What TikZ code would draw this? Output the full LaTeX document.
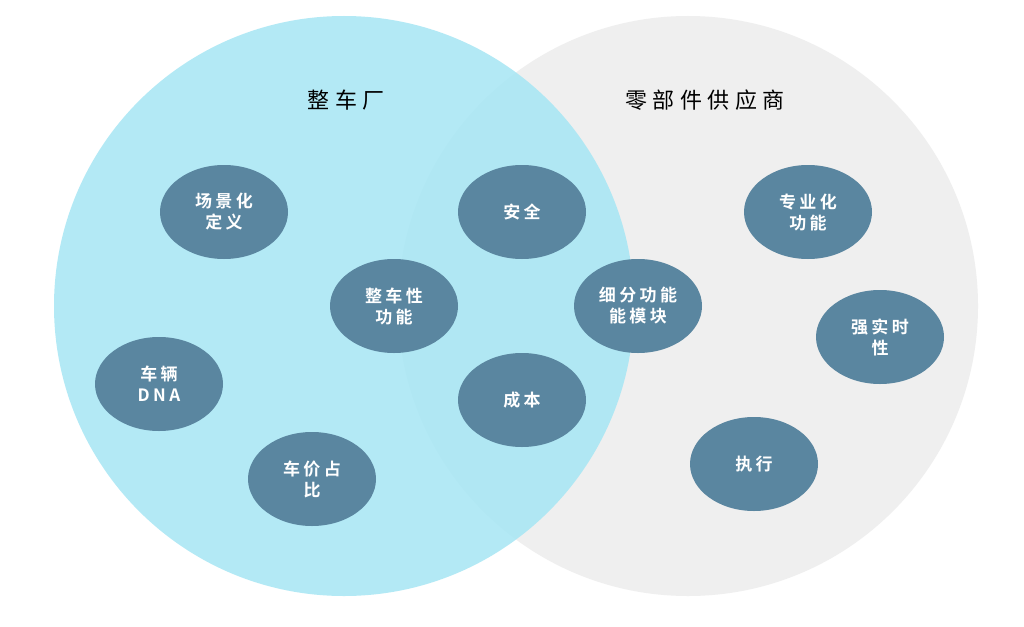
\documentclass[tikz,border=0pt]{standalone}
\usepackage{fontspec}
\newfontfamily\cjk[LetterSpace=25]{Noto Sans CJK SC}
\newfontfamily\cjkb[LetterSpace=20]{Noto Sans CJK SC Bold}
\definecolor{cyanc}{HTML}{A6E6F4}
\definecolor{grayc}{HTML}{EFEFEF}
\definecolor{blob}{HTML}{5A86A0}
\begin{document}
\begin{tikzpicture}[x=1pt,y=-1pt,
  blobn/.style={ellipse,fill=blob,minimum width=128pt,minimum height=94pt,inner sep=0pt,
    text=white,align=center,font=\cjkb\fontsize{17}{21}\selectfont},
  title/.style={font=\cjk\fontsize{22}{26}\selectfont,text=black}]
\useasboundingbox (0,0) rectangle (1024,626);
\fill[white] (0,0) rectangle (1024,626);
\fill[grayc] (688,306) circle (290);
\fill[cyanc,opacity=0.85] (344,306) circle (290);
\usetikzlibrary{shapes.geometric}
\node[title] (t1) at (346,100) {整车厂};
\node[title] (t2) at (705,100) {零部件供应商};
\node[blobn] (a) at (224,212) {场景化\\定义};
\node[blobn] (b) at (522,212) {安全};
\node[blobn] (c) at (808,212) {专业化\\功能};
\node[blobn] (d) at (394,306) {整车性\\功能};
\node[blobn] (e) at (638,306) {细分功能\\能模块};
\node[blobn] (f) at (880,337) {强实时\\性};
\node[blobn] (g) at (159,384) {车辆\\DNA};
\node[blobn] (h) at (522,400) {成本};
\node[blobn] (i) at (754,464) {执行};
\node[blobn] (j) at (312,479) {车价占\\比};
\end{tikzpicture}
\end{document}
